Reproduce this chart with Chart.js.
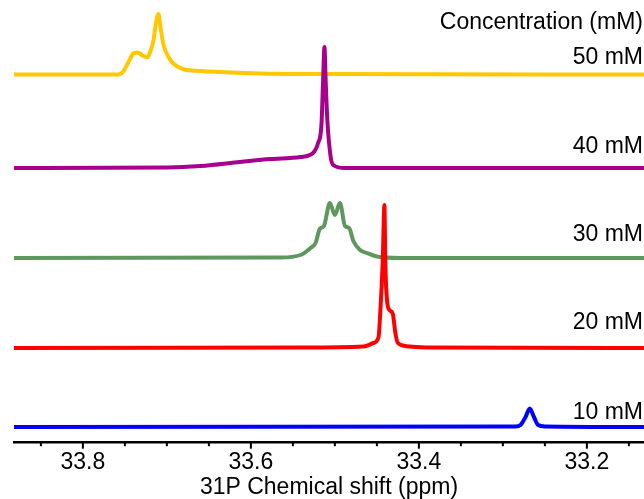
<!DOCTYPE html>
<html>
<head>
<meta charset="utf-8">
<script src="https://cdn.jsdelivr.net/npm/chart.js@4/dist/chart.umd.min.js"></script>
<style>
    html, body { margin: 0; padding: 0; background: #fff; }
    #wrap { width: 644px; height: 499px; position: relative; }
</style>
</head>
<body>
<div id="wrap"><canvas id="nmr"></canvas></div>
<script>
/* 31P spectra, chemical shift (ppm) vs intensity above each baseline */

const concLabels = ['10 mM', '20 mM', '30 mM', '40 mM', '50 mM'];
const lineColors = ['#0000ff', '#ff0000', '#5e985e', '#a8008c', '#ffc800'];

// vertical stacking of the spectra (intensity units)
const stackOffsets = [15.7, 94.7, 184.7, 274.7, 368.2];

const ppm10 = [33.882, 33.285, 33.279, 33.273, 33.268, 33.263, 33.258, 33.250, 33.132];
const int10 = [0, 0.5, 2, 10, 18.5, 10, 2, 0.5, 0];

const ppm20 = [33.882, 33.541, 33.466, 33.454, 33.448, 33.446, 33.443, 33.441, 33.440, 33.438,
    33.435, 33.431, 33.428, 33.425, 33.411, 33.386, 33.132];
const int20 = [0, 0.5, 1.5, 5, 11, 35, 88, 143, 88, 48, 38, 34, 15, 5, 1.5, 0.5, 0];

const ppm30 = [33.882, 33.565, 33.541, 33.529, 33.523, 33.518, 33.513, 33.506, 33.500, 33.494,
    33.488, 33.483, 33.478, 33.470, 33.462, 33.450, 33.422, 33.132];
const int30 = [0, 0.5, 3, 10, 15, 29, 32, 55, 43, 55, 32, 30, 17, 8, 5, 1.5, 0, 0];

const ppm40 = [33.882, 33.700, 33.660, 33.613, 33.577, 33.541, 33.526, 33.520, 33.516, 33.514,
    33.5124, 33.511, 33.509, 33.505, 33.502, 33.488, 33.132];
const int40 = [0, 0.5, 2, 6, 9, 11, 15, 25, 43, 88, 121, 88, 48, 11, 3, 0, 0];

const ppm50 = [33.882, 33.758, 33.752, 33.746, 33.740, 33.735, 33.729, 33.723, 33.720, 33.716,
    33.713, 33.710, 33.708, 33.704, 33.698, 33.693, 33.681, 33.660, 33.637, 33.589, 33.517, 33.132];
const int50 = [0, 0, 3, 12, 21, 22, 19, 17, 22.5, 34, 52, 60.5, 49.5, 29.5, 17.5, 11.5, 5.5,
    3.5, 2.5, 1, 0.5, 0];

const shiftTicks = [33.2, 33.4, 33.6, 33.8];

const ppmSets = [ppm10, ppm20, ppm30, ppm40, ppm50];
const intSets = [int10, int20, int30, int40, int50];

const baseFont = "'Liberation Sans', Arial, sans-serif";

function makeDataset(i) {
    return {
        label: concLabels[i],
        data: ppmSets[i].map((p, j) => ({x: p, y: intSets[i][j] + stackOffsets[i]})),
        borderColor: lineColors[i],
        borderWidth: 4,
        pointRadius: 0,
        cubicInterpolationMode: 'monotone',
        fill: false
    };
}

/* minor and major tick marks under the axis line */
const tickMarks = {
    id: 'tickMarks',
    afterDraw(chart) {
        const x = chart.scales.x;
        const ctx = chart.ctx;
        const y0 = x.top;
        ctx.save();
        ctx.strokeStyle = '#000';
        ctx.lineWidth = 2;
        for (let k = 663; k <= 677; k++) {
            const px = x.getPixelForValue(k / 20);
            const len = (k % 4 === 0) ? 6 : 3.5;
            ctx.beginPath();
            ctx.moveTo(px, y0);
            ctx.lineTo(px, y0 + len);
            ctx.stroke();
        }
        ctx.restore();
    }
};

/* concentration labels on the right */
const sideLabels = {
    id: 'sideLabels',
    afterDraw(chart) {
        const ctx = chart.ctx;
        const rows = [
            ['Concentration (mM)', 23],
            [concLabels[4], 58],
            [concLabels[3], 147],
            [concLabels[2], 235],
            [concLabels[1], 323],
            [concLabels[0], 413]
        ];
        ctx.save();
        ctx.font = '23px ' + baseFont;
        ctx.fillStyle = '#000';
        ctx.textAlign = 'right';
        ctx.textBaseline = 'middle';
        rows.forEach(r => ctx.fillText(r[0], 643, r[1]));
        ctx.restore();
    }
};

new Chart(document.getElementById('nmr'), {
    type: 'line',
    data: {
        datasets: [0, 1, 2, 3, 4].map(makeDataset)
    },
    plugins: [tickMarks, sideLabels],
    options: {
        responsive: true,
        maintainAspectRatio: false,
        animation: false,
        layout: {
            padding: {left: 14, right: 0, top: 0, bottom: 0}
        },
        plugins: {
            legend: {display: false},
            tooltip: {enabled: false}
        },
        scales: {
            x: {
                type: 'linear',
                reverse: true,
                min: 33.132,
                max: 33.882,
                afterBuildTicks: (scale) => {
                    scale.ticks = shiftTicks.map(v => ({value: v}));
                },
                afterFit: (scale) => {
                    scale.height = 56.3;
                },
                grid: {display: false, drawTicks: false},
                border: {display: true, color: '#000', width: 2.5},
                ticks: {
                    padding: 8,
                    color: '#000',
                    font: {family: baseFont, size: 23, lineHeight: 1.0},
                    callback: (v) => v.toFixed(1)
                },
                title: {
                    display: true,
                    text: '31P Chemical shift (ppm)',
                    color: '#000',
                    padding: 0,
                    font: {family: baseFont, size: 23, lineHeight: 1.0}
                }
            },
            y: {
                display: false,
                min: 0,
                max: 442.7
            }
        }
    }
});
</script>
</body>
</html>
